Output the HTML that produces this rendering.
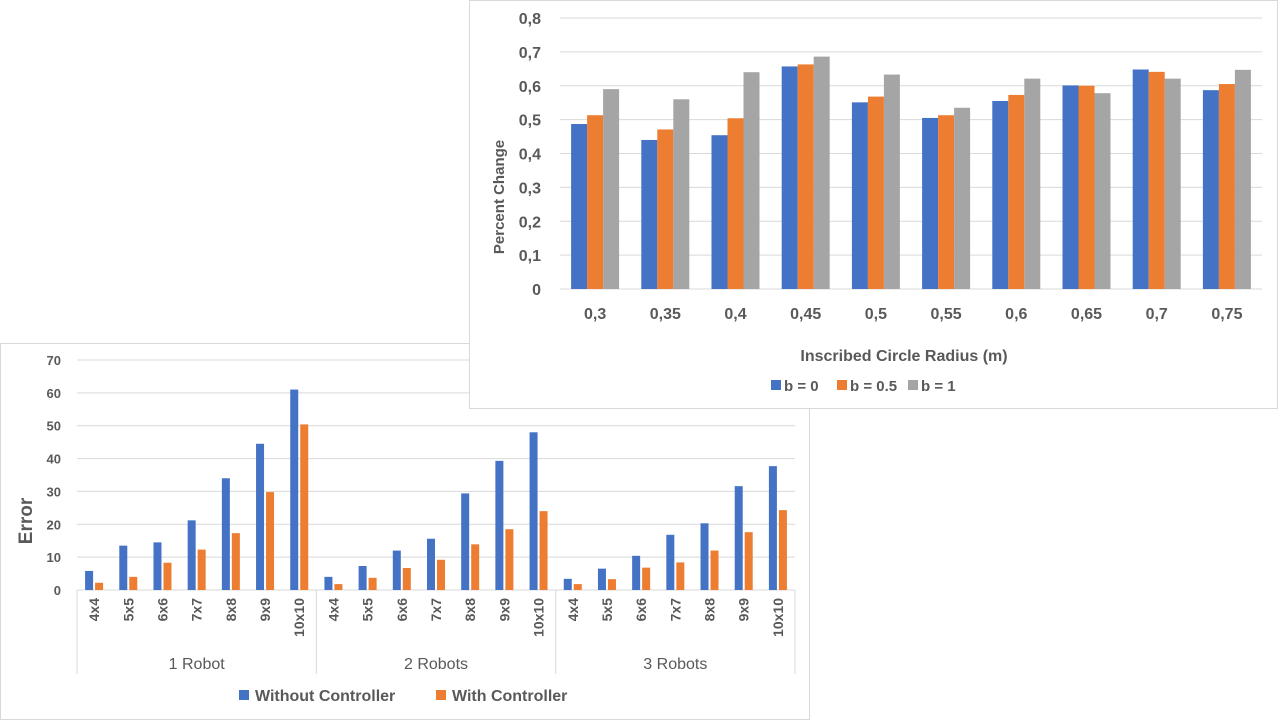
<!DOCTYPE html>
<html><head><meta charset="utf-8"><style>
body{margin:0;width:1280px;height:720px;background:#fff;overflow:hidden;position:relative;font-family:"Liberation Sans",sans-serif}
svg{position:absolute;left:0;top:0}
text{fill:#595959;font-family:"Liberation Sans",sans-serif}
</style></head><body>
<svg width="1280" height="720" id="s">
<g id="bot"></g>
<g id="top"></g>
</svg>
<script>
const sizes=["4x4","5x5","6x6","7x7","8x8","9x9","10x10"];
const groups=["1 Robot","2 Robots","3 Robots"];
const without=[5.8,13.5,14.5,21.2,34,44.5,61, 4,7.3,12,15.6,29.4,39.3,48, 3.4,6.5,10.4,16.8,20.3,31.6,37.7];
const withC=[2.2,4,8.3,12.3,17.3,29.8,50.4, 1.8,3.7,6.7,9.2,13.9,18.5,24, 1.8,3.3,6.8,8.4,12,17.6,24.3];
const errTicks=[0,10,20,30,40,50,60,70];
const radii=["0,3","0,35","0,4","0,45","0,5","0,55","0,6","0,65","0,7","0,75"];
const b0=[0.487,0.44,0.454,0.657,0.551,0.505,0.555,0.601,0.648,0.587];
const b05=[0.513,0.471,0.504,0.663,0.568,0.513,0.573,0.600,0.641,0.605];
const b1=[0.59,0.56,0.64,0.686,0.633,0.535,0.621,0.578,0.621,0.647];
const pcTicks=["0","0,1","0,2","0,3","0,4","0,5","0,6","0,7","0,8"];
const NS="http://www.w3.org/2000/svg";
function mk(p,t,a,txt){const e=document.createElementNS(NS,t);for(const k in a)e.setAttribute(k,a[k]);if(txt!==undefined)e.textContent=txt;p.appendChild(e);return e;}
const BLUE="#4472c4",OR="#ed7d31",GR="#a5a5a5";
const B=document.getElementById('bot');
let e=mk(B,'rect',{x:0.5,y:343.5,width:809,height:376,fill:'#fff',stroke:'#d9d9d9'});

const bx0=77,bx1=795,by0=590,bpx=230/70;
const by=v=>by0-v*bpx;
const step=(bx1-bx0)/21;
errTicks.forEach(t=>{
 e=mk(B,'line',{x1:bx0,x2:bx1,y1:by(t),y2:by(t),stroke:'#d9d9d9'});
 
 e=mk(B,'text',{x:61,y:by(t)+5,'text-anchor':'end','font-size':13,'font-weight':'bold'},t);
 
});
without.forEach((v,i)=>{
 const c=bx0+step*(i+0.5);
 e=mk(B,'rect',{x:c-9,y:by(v),width:8,height:by0-by(v),fill:BLUE});
 
 const w=withC[i];
 e=mk(B,'rect',{x:c+1,y:by(w),width:8,height:by0-by(w),fill:OR});
 
 e=mk(B,'text',{transform:`translate(${c+5},${598}) rotate(-90)`,'text-anchor':'end','font-size':14,'font-weight':'bold'},sizes[i%7]);
 
});
for(let g=0;g<=3;g++){
 const x=bx0+step*7*g;
 e=mk(B,'line',{x1:x,x2:x,y1:by0,y2:674,stroke:'#d9d9d9'});
 
}
groups.forEach((g,i)=>{
 e=mk(B,'text',{x:bx0+step*(7*i+3.5),y:669,'text-anchor':'middle','font-size':16},g);
 
});
e=mk(B,'text',{transform:'translate(32,521) rotate(-90)','text-anchor':'middle','font-size':19,'font-weight':'bold'},'Error');

e=mk(B,'rect',{x:239,y:690,width:10,height:10,fill:BLUE});
e=mk(B,'text',{x:255,y:701,'font-size':16,'font-weight':'bold'},'Without Controller');
e=mk(B,'rect',{x:436,y:690,width:10,height:10,fill:OR});
e=mk(B,'text',{x:452,y:701,'font-size':16,'font-weight':'bold'},'With Controller');
const T=document.getElementById('top');
e=mk(T,'rect',{x:469.5,y:0.5,width:808,height:408,fill:'#fff',stroke:'#d9d9d9'});

const tx0=560,tx1=1262,ty0=289,tpx=271/0.8;
const ty=v=>ty0-v*tpx;
const ts=(tx1-tx0)/10;
pcTicks.forEach((t,i)=>{
 const v=i*0.1;
 e=mk(T,'line',{x1:tx0,x2:tx1,y1:ty(v),y2:ty(v),stroke:'#d9d9d9'});
 
 e=mk(T,'text',{x:541,y:ty(v)+6,'text-anchor':'end','font-size':16,'font-weight':'bold'},t);
 
});
radii.forEach((r,i)=>{
 const c=tx0+ts*(i+0.5);
 [[b0,BLUE,'bar-b0'],[b05,OR,'bar-b05'],[b1,GR,'bar-b1']].forEach((s,j)=>{
  const v=s[0][i];
  const el=mk(T,'rect',{x:c-24+j*16,y:ty(v),width:16,height:ty0-ty(v),fill:s[1]});
  
 });
 e=mk(T,'text',{x:c,y:319,'text-anchor':'middle','font-size':16,'font-weight':'bold'},r);
 
});
e=mk(T,'text',{x:904,y:361,'text-anchor':'middle','font-size':16,'font-weight':'bold'},'Inscribed Circle Radius (m)');

e=mk(T,'text',{transform:'translate(504,197) rotate(-90)','text-anchor':'middle','font-size':15,'font-weight':'bold'},'Percent Change');

[[771,BLUE,'b = 0','b0'],[837,OR,'b = 0.5','b05'],[908,GR,'b = 1','b1']].forEach(l=>{
 const s=mk(T,'rect',{x:l[0],y:380,width:10,height:10,fill:l[1]});
 
 const t=mk(T,'text',{x:l[0]+13,y:391,'font-size':15,'font-weight':'bold'},l[2]);
 
});
</script>
</body></html>
